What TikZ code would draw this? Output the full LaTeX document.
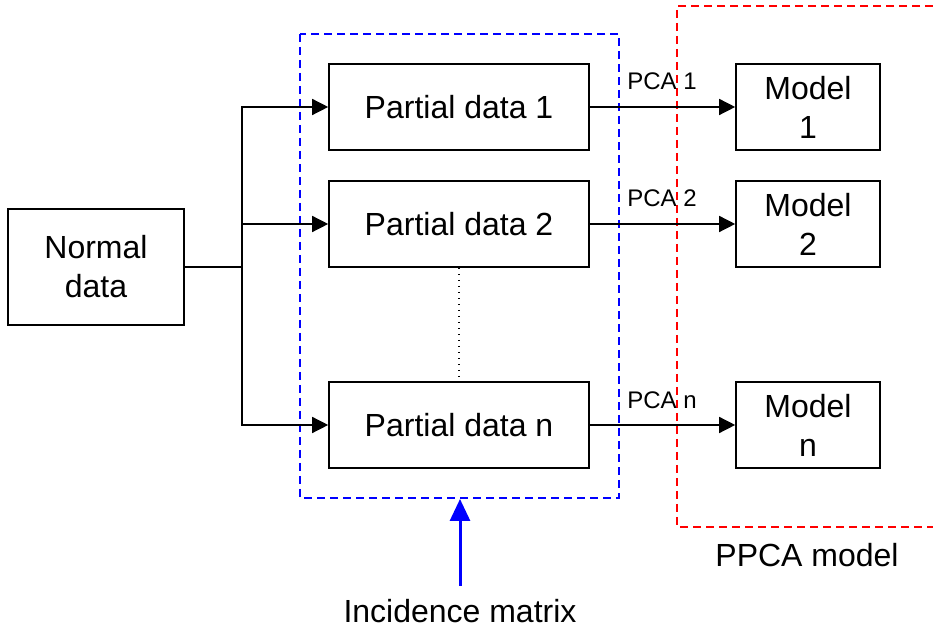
\documentclass[tikz,border=0pt]{standalone}
\usepackage{fontspec}
\setmainfont{Liberation Sans}
\usetikzlibrary{arrows.meta}
\begin{document}
\begin{tikzpicture}[x=0.5pt,y=-0.5pt,
  box/.style={draw=black,line width=0.8pt,minimum width=130pt,minimum height=43pt,inner sep=0pt,align=center,font=\fontsize{16}{19.5}\selectfont},
  mbox/.style={box,minimum width=72pt},
  nbox/.style={box,minimum width=88pt,minimum height=58pt},
  conn/.style={line width=0.7pt,draw=black},
  arr/.style={conn,-{Triangle[length=8pt,width=8pt]}},
  lbl/.style={font=\fontsize{12}{14}\selectfont,inner sep=0pt,anchor=west},
  big/.style={font=\fontsize{16}{19}\selectfont,inner sep=0pt}]
\useasboundingbox (0,0) rectangle (933,635);
% groups
\draw[blue,line width=0.6pt,dash pattern=on 4pt off 2.5pt] (300,34) rectangle (619,498);
\draw[red,line width=0.6pt,dash pattern=on 4pt off 2.5pt] (933,6) -- (677,6) -- (677,527) -- (933,527);
% nodes
\node[nbox] (nd) at (96,267) {Normal\\data};
\node[box] (p1) at (459,107) {Partial data 1};
\node[box] (p2) at (459,224) {Partial data 2};
\node[box] (pn) at (459,425) {Partial data n};
\node[mbox] (m1) at (808,107) {Model\\1};
\node[mbox] (m2) at (808,224) {Model\\2};
\node[mbox] (mn) at (808,425) {Model\\n};
\coordinate (j) at (242,267);
% connectors
\draw[conn] (nd.east) -- (j);
\draw[arr] (j) |- (p1.west);
\draw[arr] (j) -- (j |- p2.west) -- (p2.west);
\draw[arr] (j) |- (pn.west);
\draw[arr] (p1.east) -- (m1.west);
\draw[arr] (p2.east) -- (m2.west);
\draw[arr] (pn.east) -- (mn.west);
\draw[line width=0.7pt,dash pattern=on 0.6pt off 2.4pt] (p2.south) -- (pn.north);
% labels
\node[lbl] (l1) at (627,81) {PCA 1};
\node[lbl] (l2) at (627,198) {PCA 2};
\node[lbl] (ln) at (627,400) {PCA n};
\node[big] (im) at (460,611) {Incidence matrix};
\node[big] (pp) at (807,555) {PPCA model};
\coordinate (bt) at (460,499);
\draw[blue,line width=1.5pt,-{Triangle[length=11pt,width=10pt]}] (460,586) -- (bt);
\end{tikzpicture}
\end{document}
